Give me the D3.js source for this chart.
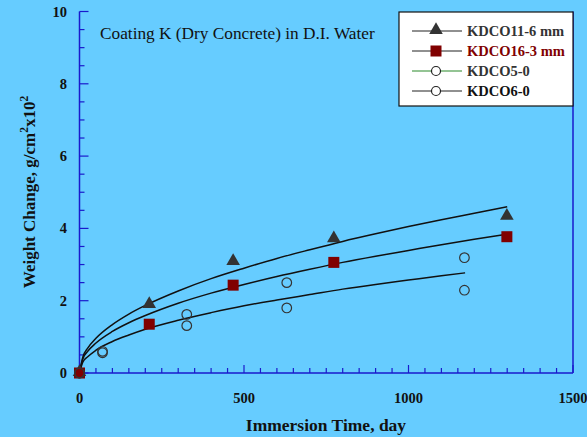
<!DOCTYPE html>
<html><head><meta charset="utf-8">
<script src="https://cdn.jsdelivr.net/npm/d3@7"></script>
<style>
html,body{margin:0;padding:0;background:#66ccff;}
svg{display:block;}
text{font-family:"Liberation Serif","DejaVu Serif",serif;}
</style></head>
<body><svg id="c" width="587" height="437"></svg>
<script>
// ---- data ----
const seriesNames = ["KDCO11-6 mm","KDCO16-3 mm","KDCO5-0","KDCO6-0"];
const triDays = [0, 212, 467, 773, 1299];
const triVals = [0, 1.88, 3.07, 3.70, 4.32];
const sqDays = [0, 212, 467, 773, 1299];
const sqVals = [0, 1.35, 2.43, 3.06, 3.77];
const c5Days = [0, 70, 326, 630, 1170];
const c5Vals = [0, 0.60, 1.62, 2.50, 3.19];
const c6Days = [0, 70, 326, 630, 1170];
const c6Vals = [0, 0.56, 1.31, 1.80, 2.29];
// fitted curves
const fitDays = [0,10,25,50,100,150,200,300,400,500,600,700,800,900,1000,1100,1200,1300];
const fitTop = [0,0.44,0.69,0.96,1.34,1.63,1.87,2.27,2.61,2.90,3.17,3.41,3.64,3.85,4.05,4.24,4.42,4.60];
const fitMid = [0,0.39,0.60,0.83,1.15,1.39,1.59,1.93,2.21,2.45,2.67,2.87,3.06,3.23,3.39,3.55,3.70,3.84];
const fitLowDays = [0,10,25,50,100,150,200,300,400,500,600,700,800,900,1000,1100,1172];
const fitLow = [0,0.30,0.45,0.63,0.87,1.05,1.21,1.46,1.67,1.86,2.02,2.17,2.32,2.45,2.57,2.69,2.77];
const xTickLabels = [0, 500, 1000, 1500];
const yTickLabels = [0, 2, 4, 6, 8, 10];
const title = "Coating K (Dry Concrete) in D.I. Water";

const svg = d3.select("#c");
const x = d3.scaleLinear().domain([0,1500]).range([79.5,573]);
const y = d3.scaleLinear().domain([0,10]).range([373,11.5]);
const axisCol = "#1a1acc";

svg.append("rect").attr("width",587).attr("height",437).attr("fill","#66ccff");

// axes lines
svg.append("line").attr("x1",x(0)).attr("x2",x(0)).attr("y1",y(10)).attr("y2",y(0)).attr("stroke",axisCol).attr("stroke-width",1.5);
svg.append("line").attr("x1",x(0)).attr("x2",x(1500)).attr("y1",y(0)).attr("y2",y(0)).attr("stroke",axisCol).attr("stroke-width",1.5);
svg.append("line").attr("x1",x(1500)).attr("x2",x(1500)).attr("y1",y(10)).attr("y2",y(0)).attr("stroke",axisCol).attr("stroke-width",1.5);

// y ticks (inside)
const yMinor = d3.range(0, 10.01, 0.5);
svg.append("g").selectAll("line").data(yMinor).join("line")
  .attr("x1",x(0)).attr("x2",d=> x(0) + (d%2===0 ? 9 : 5))
  .attr("y1",d=>y(d)).attr("y2",d=>y(d)).attr("stroke",axisCol).attr("stroke-width",1.2);
// x ticks (inside)
const xMinor = d3.range(0, 1501, 50);
svg.append("g").selectAll("line").data(xMinor).join("line")
  .attr("x1",d=>x(d)).attr("x2",d=>x(d))
  .attr("y1",y(0)).attr("y2",d=> y(0) - (d%500===0 ? 8 : 5)).attr("stroke",axisCol).attr("stroke-width",1.2);

// tick labels
svg.append("g").selectAll("text").data(yTickLabels).join("text")
  .attr("x",67).attr("y",d=>y(d)+5).attr("text-anchor","end")
  .attr("font-size",14.5).attr("font-weight","bold").attr("fill","#111").text(d=>d);
svg.append("g").selectAll("text").data(xTickLabels).join("text")
  .attr("x",d=>x(d)).attr("y",403).attr("text-anchor","middle")
  .attr("font-size",14.5).attr("font-weight","bold").attr("fill","#111").text(d=>d);

// axis titles
svg.append("text").attr("x",326).attr("y",431).attr("text-anchor","middle")
  .attr("font-size",17.5).attr("font-weight","bold").attr("fill","#111").text("Immersion Time, day");
const yt = svg.append("text").attr("transform","translate(35,192) rotate(-90)").attr("text-anchor","middle")
  .attr("font-size",17).attr("font-weight","bold").attr("fill","#111");
yt.append("tspan").text("Weight Change, g/cm");
yt.append("tspan").attr("dy",-7).attr("font-size",11.5).text("2");
yt.append("tspan").attr("dy",7).text("x10");
yt.append("tspan").attr("dy",-7).attr("font-size",11.5).text("2");

// title
svg.append("text").attr("x",100).attr("y",39).attr("font-size",17.3).attr("fill","#111").text(title);

// fitted curves
const line = d3.line().x(d=>x(d[0])).y(d=>y(d[1])).curve(d3.curveMonotoneX);
[[fitDays,fitTop],[fitDays,fitMid],[fitLowDays,fitLow]].forEach(([ds,vs])=>{
  svg.append("path").attr("d", line(ds.map((d,i)=>[d,vs[i]])))
    .attr("fill","none").attr("stroke","#111").attr("stroke-width",1.5);
});

// markers
const tri = d3.symbol().type(d3.symbolTriangle).size(80);
function drawTri(g,cx,cy){ g.append("path").attr("d",tri()).attr("transform",`translate(${cx},${cy})`).attr("fill","#333"); }
function drawSq(g,cx,cy){ g.append("rect").attr("x",cx-5.5).attr("y",cy-5.5).attr("width",11).attr("height",11).attr("fill","#800000"); }
function drawCirc(g,cx,cy){ g.append("circle").attr("cx",cx).attr("cy",cy).attr("r",4.8).attr("fill","none").attr("stroke","#333").attr("stroke-width",1.2); }

const mg = svg.append("g");
triDays.forEach((d,i)=>drawTri(mg,x(d),y(triVals[i])-1));
sqDays.forEach((d,i)=>drawSq(mg,x(d),y(sqVals[i])));
c5Days.forEach((d,i)=>drawCirc(mg,x(d),y(c5Vals[i])));
c6Days.forEach((d,i)=>drawCirc(mg,x(d),y(c6Vals[i])));

// legend
const lg = svg.append("g");
lg.append("rect").attr("x",399).attr("y",12).attr("width",174).attr("height",94).attr("fill","#fff").attr("stroke","#111").attr("stroke-width",1.2);
const rowsY = [31, 51, 71, 91];
const lineCols = ["#222","#222","#2a8a2a","#222"];
const textCols = ["#333","#800000","#333","#111"];
seriesNames.forEach((n,i)=>{
  lg.append("line").attr("x1",412).attr("x2",462).attr("y1",rowsY[i]).attr("y2",rowsY[i]).attr("stroke",lineCols[i]).attr("stroke-width",1.2);
  if(i===0) drawTri(lg,436,rowsY[i]-1);
  else if(i===1) drawSq(lg,436,rowsY[i]);
  else { lg.append("circle").attr("cx",436).attr("cy",rowsY[i]).attr("r",4.5).attr("fill","#fff").attr("stroke","#222").attr("stroke-width",1.2); }
  lg.append("text").attr("x",467).attr("y",rowsY[i]+5).attr("font-size",14.5).attr("font-weight","bold").attr("fill",textCols[i]).text(n);
});
</script></body></html>
